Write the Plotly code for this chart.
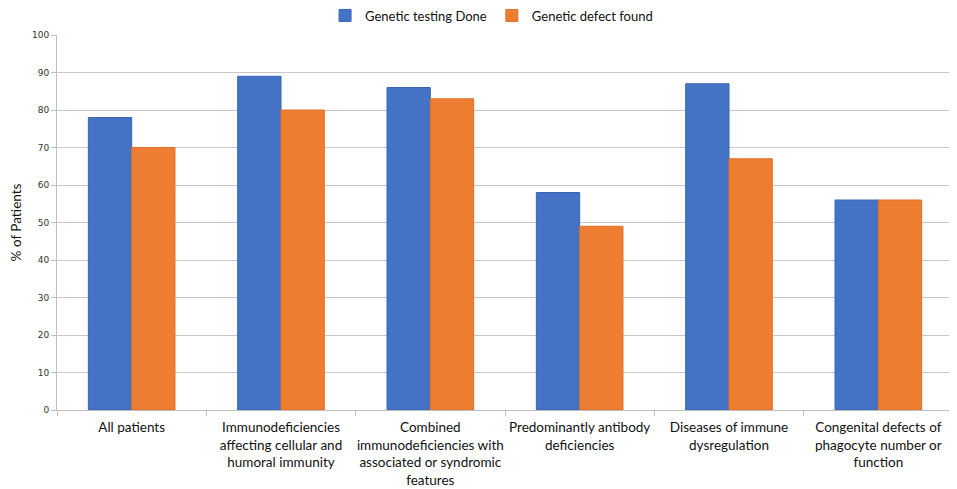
import plotly.graph_objects as go

categories = [
    "All patients",
    "Immunodeficiencies<br>affecting cellular and<br>humoral immunity",
    "Combined<br>immunodeficiencies with<br>associated or syndromic<br>features",
    "Predominantly antibody<br>deficiencies",
    "Diseases of immune<br>dysregulation",
    "Congenital defects of<br>phagocyte number or<br>function",
]
testing_done = [78, 89, 86, 58, 87, 56]
defect_found = [70, 80, 83, 49, 67, 56]

fig = go.Figure()
fig.add_trace(go.Bar(
    x=categories, y=testing_done, name="Genetic testing Done",
    marker=dict(color="#4472C4", line=dict(color="#3A64B0", width=1)),
))
fig.add_trace(go.Bar(
    x=categories, y=defect_found, name="Genetic defect found",
    marker=dict(color="#ED7D31", line=dict(color="#E0702A", width=1)),
))

# page body has an 8px margin, so the figure is a bit smaller than the window
fig.update_layout(
    width=949, height=481,
    margin=dict(l=49, r=4, t=27, b=79, autoexpand=False),
    paper_bgcolor="white", plot_bgcolor="white",
    barmode="group", bargap=0.42, bargroupgap=0,
    font=dict(family="Lato, Open Sans, sans-serif", size=13, color="#111"),
    legend=dict(orientation="h", x=0.485, xanchor="center",
                y=1.052, yanchor="middle",
                font=dict(size=13, color="#111"), itemwidth=30,
                traceorder="normal"),
    showlegend=True,
)
fig.update_xaxes(
    showline=True, linecolor="#BFBFBF", linewidth=1,
    ticks="outside", tickson="boundaries", ticklen=5, tickcolor="#BFBFBF",
    tickfont=dict(size=13.5, color="#111"), tickangle=0, automargin=False,
    ticklabelstandoff=5,
)
fig.update_yaxes(
    range=[0, 100], dtick=10,
    showline=True, linecolor="#BFBFBF", linewidth=1,
    showgrid=True, gridcolor="#C8C8C8", gridwidth=1,
    ticks="outside", ticklen=5, tickcolor="#BFBFBF",
    tickfont=dict(family="DejaVu Sans, sans-serif", size=9, color="#333"),
    title=dict(text="% of Patients", font=dict(size=13.5, color="#111"), standoff=9),
    zeroline=False, automargin=False,
)

fig.write_html("out.html")
